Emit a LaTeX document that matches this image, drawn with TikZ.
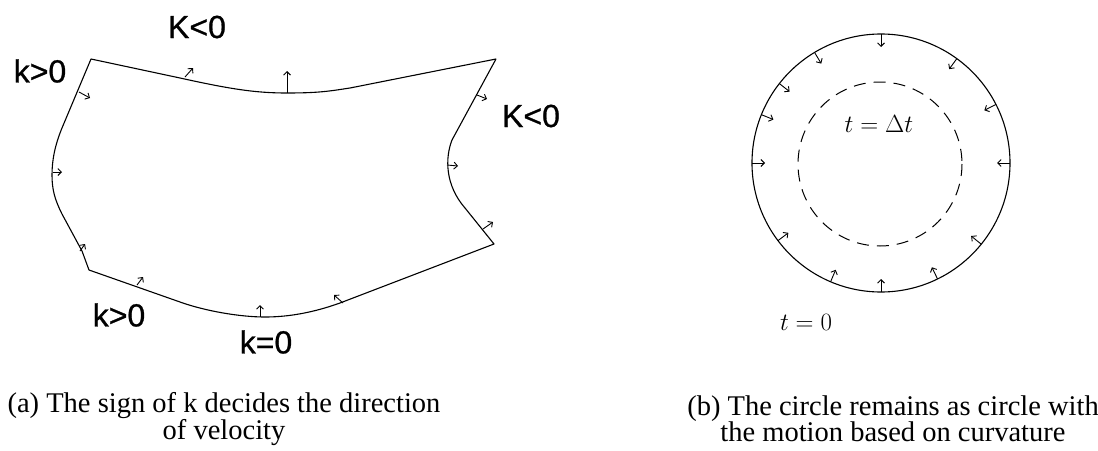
\documentclass[tikz,border=0pt]{standalone}
\usepackage{fontspec}
\setmainfont{Liberation Serif}
\newfontfamily\arialfont[FakeBold=0.8]{Liberation Sans}
\usetikzlibrary{arrows.meta}
\begin{document}
\begin{tikzpicture}[x=1pt,y=-1pt,
  curve/.style={line width=1.1pt, line join=round},
  normal/.style={line width=0.9pt, -{Straight Barb[length=3.5pt,width=7pt]}},
  klabel/.style={font=\arialfont\fontsize{32}{36}\selectfont, inner sep=0pt},
  caption/.style={font=\fontsize{28.5}{26}\selectfont, align=center, inner sep=0pt},
  tlabel/.style={font=\fontsize{24}{28}\selectfont, inner sep=0pt}]
\useasboundingbox (0,0) rectangle (1098,450);
% ---- figure (a): closed curve ----
\draw[curve] (91,59) -- (180,78)
  .. controls (230,89) and (255,93) .. (287,93)
  .. controls (320,93) and (330,91) .. (350,88)
  -- (496,59) -- (452,140)
  .. controls (445,158) and (445,185) .. (465,208)
  -- (494,244) -- (340,303)
  .. controls (315,312) and (290,317) .. (265,317)
  .. controls (240,317) and (205,311) .. (180,302)
  -- (89,270) -- (82,251) -- (62,214)
  .. controls (55,200) and (52,190) .. (52,175)
  .. controls (52,160) and (55,145) .. (62,128)
  -- cycle;
% normals
\draw[normal] (79,92) -- (90,98);
\draw[normal] (185,77) -- (193,68);
\draw[normal] (287,93) -- (287,71);
\draw[normal] (477,95) -- (487,99);
\draw[normal] (447,165) -- (458,166);
\draw[normal] (483,229) -- (493,222);
\draw[normal] (343,303) -- (334,295);
\draw[normal] (260,317) -- (260,305);
\draw[normal] (137,285) -- (143,277);
\draw[normal] (80,251) -- (85,244);
\draw[normal] (53,172) -- (62,172);
% labels
\node[klabel] (k1) at (40,71) {k>0};
\node[klabel] (k2) at (197,27) {K<0};
\node[klabel] (k3) at (531,116) {K<0};
\node[klabel] (k4) at (119,315) {k>0};
\node[klabel] (k5) at (266,342) {k=0};
% ---- figure (b): circles ----
\coordinate (c) at (881,163);
\draw[curve] (c) circle (129);
\draw[line width=1pt, dash pattern=on 12pt off 8pt] (880,164) circle (82);
\foreach \a in {90,121,142,158,180,217,247,270,296,321,0,27,54}{
  \draw[normal] ([shift={(c)}]\a:129pt) -- ([shift={(c)}]\a:116pt);
}
\node[tlabel] (t1) at (879,124) {$t = \Delta t$};
\node[tlabel] (t0) at (806,322) {$t = 0$};
% ---- captions ----
\node[caption] (ca) at (224,419) {(a) The sign of k decides the direction\\of velocity};
\node[caption] (cb) at (893,419) {(b) The circle remains as circle with\\the motion based on curvature};
\end{tikzpicture}
\end{document}
